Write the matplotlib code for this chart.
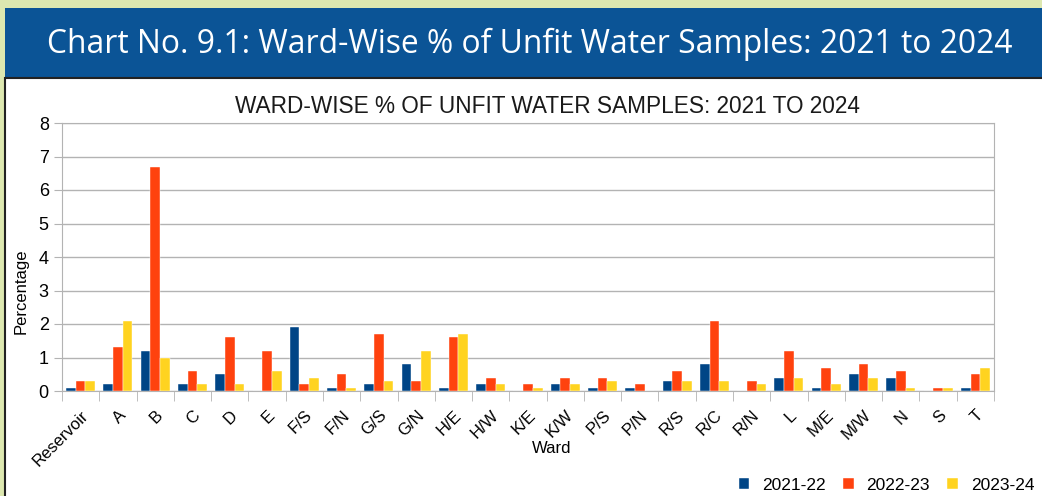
import numpy as np
import matplotlib.pyplot as plt
from matplotlib.patches import Rectangle

wards = ['Reservoir', 'A', 'B', 'C', 'D', 'E', 'F/S', 'F/N', 'G/S', 'G/N', 'H/E',
         'H/W', 'K/E', 'K/W', 'P/S', 'P/N', 'R/S', 'R/C', 'R/N', 'L', 'M/E',
         'M/W', 'N', 'S', 'T']
y2122 = [0.1, 0.2, 1.2, 0.2, 0.5, 0.0, 1.9, 0.1, 0.2, 0.8, 0.1, 0.2, 0.0, 0.2,
         0.1, 0.1, 0.3, 0.8, 0.0, 0.4, 0.1, 0.5, 0.4, 0.0, 0.1]
y2223 = [0.3, 1.3, 6.7, 0.6, 1.6, 1.2, 0.2, 0.5, 1.7, 0.3, 1.6, 0.4, 0.2, 0.4,
         0.4, 0.2, 0.6, 2.1, 0.3, 1.2, 0.7, 0.8, 0.6, 0.1, 0.5]
y2324 = [0.3, 2.1, 1.0, 0.2, 0.2, 0.6, 0.4, 0.1, 0.3, 1.2, 1.7, 0.2, 0.1, 0.2,
         0.3, 0.0, 0.3, 0.3, 0.2, 0.4, 0.2, 0.4, 0.1, 0.1, 0.7]
series = ['2021-22', '2022-23', '2023-24']
colors = ['#004586', '#ff420e', '#ffd320']

fig = plt.figure(figsize=(10.42, 4.96), dpi=100)
fig.patch.set_facecolor('#dde8b0')

# banner and white chart panel
fig.patches.append(Rectangle((5/1042, 1 - 78/496), 1.0, 70/496, transform=fig.transFigure,
                             facecolor='#0b5496', edgecolor='none', zorder=-2))
fig.patches.append(Rectangle((5/1042, -0.01), 1.0, 1.01 - 78/496, transform=fig.transFigure,
                             facecolor='white', edgecolor='#222222', linewidth=1.5, zorder=-2))
fig.text(530/1042, 1 - 44/496, 'Chart No. 9.1: Ward-Wise % of Unfit Water Samples: 2021 to 2024',
         color='white', fontsize=22.9, family='Open Sans', ha='center', va='center')

ax = fig.add_axes([62/1042, 1 - 391/496, (994 - 62)/1042, (391 - 123)/496])
ax.set_zorder(1)
x = np.arange(len(wards))
w = 0.26
for i, (vals, lab, c) in enumerate(zip([y2122, y2223, y2324], series, colors)):
    ax.bar(x + (i - 1) * w, vals, width=w, color=c, label=lab, zorder=3,
           edgecolor='white', linewidth=0.3)

ax.set_xlim(-0.5, len(wards) - 0.5)
ax.set_ylim(0, 8)
ax.set_yticks(range(0, 9))
ax.yaxis.grid(True, color='#b3b3b3', linewidth=1)
ax.set_axisbelow(True)
for s in ax.spines.values():
    s.set_color('#b3b3b3')
ax.set_xticks(x)
ax.set_xticklabels(wards, rotation=45, ha='right', rotation_mode='anchor', fontsize=12,
                   family='Liberation Sans')
ax.set_xticks(np.arange(-0.5, len(wards)), minor=True)
ax.tick_params(axis='x', which='major', length=0, pad=12)
ax.tick_params(axis='x', which='minor', length=7, color='#b3b3b3')
ax.tick_params(axis='y', length=6, color='#b3b3b3', labelsize=13)
for t in ax.get_yticklabels():
    t.set_family('Liberation Sans')
ax.set_title('WARD-WISE % OF UNFIT WATER SAMPLES: 2021 TO 2024', fontsize=16.3,
             family='Liberation Sans', color='#1a1a1a', pad=7, x=(547 - 62) / 932)
ax.set_xlabel('Ward', fontsize=12, family='Liberation Sans')
ax.set_ylabel('Percentage', fontsize=12, family='Liberation Sans')
ax.xaxis.set_label_coords((552 - 62) / 932, -(441 - 391) / 268)
ax.yaxis.set_label_coords(-(62 - 29) / 932, (391 - 291) / 268)

fig.legend(loc='center right', bbox_to_anchor=(1.0 + 8/1042, 1 - 485/496), ncol=3, frameon=False,
           handlelength=0.6, handleheight=0.6, columnspacing=1.0, handletextpad=0.75,
           prop={'family': 'Liberation Sans', 'size': 12.5})

fig.savefig('out.png', dpi=100, facecolor=fig.get_facecolor())
